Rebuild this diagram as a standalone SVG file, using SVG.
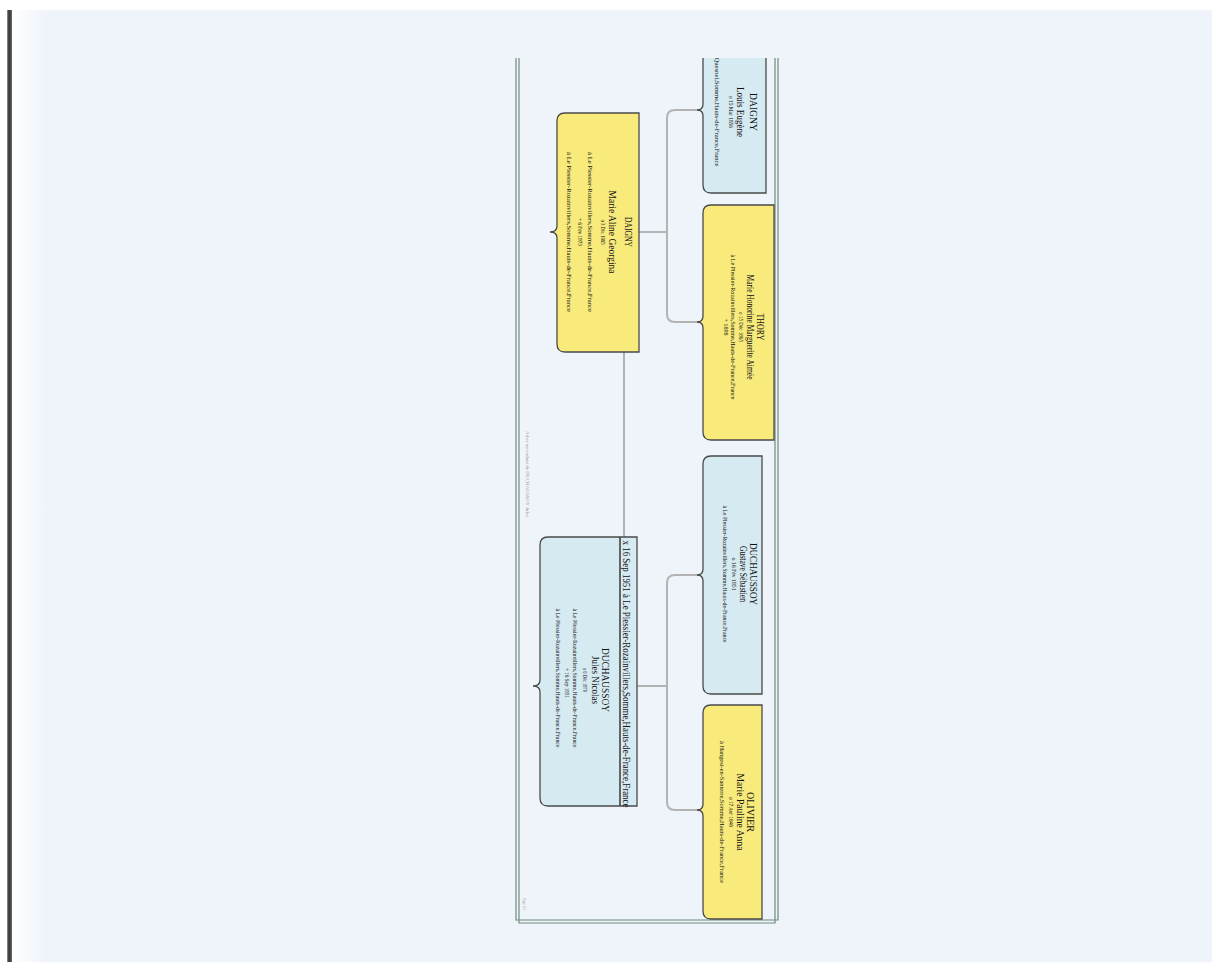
<svg xmlns="http://www.w3.org/2000/svg" width="1212" height="962" viewBox="0 0 1212 962">
<defs>
<linearGradient id="edge" x1="0" y1="0" x2="1" y2="0">
<stop offset="0" stop-color="#9a9a9a"/><stop offset="0.4" stop-color="#2e2e2e"/><stop offset="1" stop-color="#6a6a6a"/>
</linearGradient>
<linearGradient id="side" x1="0" y1="0" x2="1" y2="0">
<stop offset="0" stop-color="#ffffff"/><stop offset="1" stop-color="#eff3fa"/>
</linearGradient>
<clipPath id="page"><rect x="500" y="58" width="300" height="880"/></clipPath>
</defs>
<style>
.bg{fill:#eff3fa}
.box{stroke:#4a4a4a;stroke-width:1.3}
.yel{fill:#f8eb7c}
.blu{fill:#d6eaf2}
.frame{fill:none;stroke:#6f8c7c;stroke-width:1.2}
.con{fill:none;stroke:#b3b3b3;stroke-width:2}
text{font-family:"Liberation Serif","Times New Roman",serif;fill:#111;text-anchor:middle}
.nm{font-size:11px}
.sm{font-size:7px}
.mar{font-size:10.5px}
.tiny{font-size:4.5px;fill:#999}
</style>
<rect x="0" y="0" width="1212" height="962" class="bg"/>
<rect x="0" y="0" width="1212" height="10" fill="#ffffff"/>
<rect x="0" y="0" width="7" height="962" fill="#ffffff"/>
<rect x="12" y="10" width="34" height="952" fill="url(#side)"/>
<rect x="7" y="10" width="5" height="952" fill="url(#edge)"/>

<g id="frame">
<path class="frame" d="M516,58 V920 H778 V58"/>
<path class="frame" d="M519,58 V923 H775 V58"/>
</g>

<g id="connectors">
<path class="con" d="M639,232 H667"/>
<path class="con" d="M701,110 H675 Q667,110 667,118 V314 Q667,322 675,322 H701"/>
<path class="con" d="M637,686 H667"/>
<path class="con" d="M701,575 H675 Q667,575 667,583 V802 Q667,810 675,810 H701"/>
<path class="con" d="M624,352 V537"/>
</g>

<g id="daigny-louis" clip-path="url(#page)">
<path class="box blu" d="M766,50 V193 H711 Q703,193 703,185 V116 Q703,110 697,110 Q703,110 703,104 V50"/>
<text class="nm" transform="translate(750,112) rotate(90)" textLength="38" lengthAdjust="spacingAndGlyphs">DAIGNY</text>
<text class="nm" transform="translate(737,112) rotate(90)" textLength="50" lengthAdjust="spacingAndGlyphs">Louis Eugène</text>
<text class="sm" transform="translate(729,112) rotate(90)" textLength="32" lengthAdjust="spacingAndGlyphs">o 15 Mar 1856</text>
<text class="sm" transform="translate(714.5,112) rotate(90)" textLength="109" lengthAdjust="spacingAndGlyphs">Quesnel,Somme,Hauts-de-France,France</text>
</g>

<g id="thory">
<path class="box yel" d="M774,205 V440 H711 Q703,440 703,432 V328 Q703,322 697,322 Q703,322 703,316 V213 Q703,205 711,205 Z"/>
<text class="nm" transform="translate(757,327) rotate(90)" textLength="27" lengthAdjust="spacingAndGlyphs">THORY</text>
<text class="nm" transform="translate(746.5,327) rotate(90)" textLength="105" lengthAdjust="spacingAndGlyphs">Marie Honorine Marguerite Aimée</text>
<text class="sm" transform="translate(738.5,327) rotate(90)" textLength="30" lengthAdjust="spacingAndGlyphs">o 15 Déc 1865</text>
<text class="sm" transform="translate(731,327) rotate(90)" textLength="145" lengthAdjust="spacingAndGlyphs">à Le Plessier-Rozainvillers,Somme,Hauts-de-France,France</text>
<text class="sm" transform="translate(724,327) rotate(90)" textLength="17" lengthAdjust="spacingAndGlyphs">+ 1898</text>
</g>

<g id="duchaussoy-gustave">
<path class="box blu" d="M762,456 V694 H711 Q703,694 703,686 V581 Q703,575 697,575 Q703,575 703,569 V464 Q703,456 711,456 Z"/>
<text class="nm" transform="translate(750,574) rotate(90)" textLength="62" lengthAdjust="spacingAndGlyphs">DUCHAUSSOY</text>
<text class="nm" transform="translate(739.5,574) rotate(90)" textLength="56" lengthAdjust="spacingAndGlyphs">Gustave Sébastien</text>
<text class="sm" transform="translate(732,574) rotate(90)" textLength="33" lengthAdjust="spacingAndGlyphs">o 16 Fév 1851</text>
<text class="sm" transform="translate(722.5,574) rotate(90)" textLength="137" lengthAdjust="spacingAndGlyphs">à Le Plessier-Rozainvillers,Somme,Hauts-de-France,France</text>
</g>

<g id="olivier">
<path class="box yel" d="M762,705 V919 H711 Q703,919 703,911 V816 Q703,810 697,810 Q703,810 703,804 V713 Q703,705 711,705 Z"/>
<text class="nm" transform="translate(747,812) rotate(90)" textLength="40" lengthAdjust="spacingAndGlyphs">OLIVIER</text>
<text class="nm" transform="translate(736.5,812) rotate(90)" textLength="77" lengthAdjust="spacingAndGlyphs">Marie Pauline Anna</text>
<text class="sm" transform="translate(729,812) rotate(90)" textLength="30" lengthAdjust="spacingAndGlyphs">o 17 Avr 1848</text>
<text class="sm" transform="translate(719.5,812) rotate(90)" textLength="142" lengthAdjust="spacingAndGlyphs">à Hangest-en-Santerre,Somme,Hauts-de-France,France</text>
</g>

<g id="daigny-marie">
<path class="box yel" d="M639,113 V352 H565 Q557,352 557,344 V238 Q557,232 550,232 Q557,232 557,226 V121 Q557,113 565,113 Z"/>
<text class="nm" transform="translate(624.5,232) rotate(90)" textLength="30" lengthAdjust="spacingAndGlyphs">DAIGNY</text>
<text class="nm" transform="translate(609,232) rotate(90)" textLength="83" lengthAdjust="spacingAndGlyphs">Marie Aline Georgina</text>
<text class="sm" transform="translate(600.5,232) rotate(90)" textLength="25" lengthAdjust="spacingAndGlyphs">o 3 Déc 1885</text>
<text class="sm" transform="translate(587.5,232) rotate(90)" textLength="160" lengthAdjust="spacingAndGlyphs">à Le Plessier-Rozainvillers,Somme,Hauts-de-France,France</text>
<text class="sm" transform="translate(577.5,232) rotate(90)" textLength="28" lengthAdjust="spacingAndGlyphs">+ 6 Fév 1973</text>
<text class="sm" transform="translate(566.5,232) rotate(90)" textLength="160" lengthAdjust="spacingAndGlyphs">à Le Plessier-Rozainvillers,Somme,Hauts-de-France,France</text>
</g>

<g id="duchaussoy-jules">
<path class="box blu" d="M637,537 V806 H548 Q540,806 540,798 V692 Q540,686 533,686 Q540,686 540,680 V545 Q540,537 548,537 Z"/>
<line x1="620" y1="537" x2="620" y2="806" stroke="#444" stroke-width="1.6"/>
<text class="mar" transform="translate(623,674) rotate(90)" textLength="267" lengthAdjust="spacingAndGlyphs">x 16 Sep 1951 à Le Plessier-Rozainvillers,Somme,Hauts-de-France,France</text>
<text class="nm" transform="translate(602,680) rotate(90)" textLength="64" lengthAdjust="spacingAndGlyphs">DUCHAUSSOY</text>
<text class="nm" transform="translate(591.5,680) rotate(90)" textLength="48" lengthAdjust="spacingAndGlyphs">Jules Nicolas</text>
<text class="sm" transform="translate(583,680) rotate(90)" textLength="24" lengthAdjust="spacingAndGlyphs">o 6 Déc 1879</text>
<text class="sm" transform="translate(573,678) rotate(90)" textLength="139" lengthAdjust="spacingAndGlyphs">à Le Plessier-Rozainvillers,Somme,Hauts-de-France,France</text>
<text class="sm" transform="translate(565,683) rotate(90)" textLength="30" lengthAdjust="spacingAndGlyphs">+ 16 Sep 1951</text>
<text class="sm" transform="translate(555.5,678) rotate(90)" textLength="139" lengthAdjust="spacingAndGlyphs">à Le Plessier-Rozainvillers,Somme,Hauts-de-France,France</text>
</g>

<g id="footer">
<text class="tiny" transform="translate(525.5,474) rotate(90)" textLength="86" lengthAdjust="spacingAndGlyphs">Arbre ascendant de DUCHAUSSOY Jules</text>
<text class="tiny" transform="translate(523,904) rotate(90)" textLength="12" lengthAdjust="spacingAndGlyphs">Page 1/1</text>
</g>
</svg>
